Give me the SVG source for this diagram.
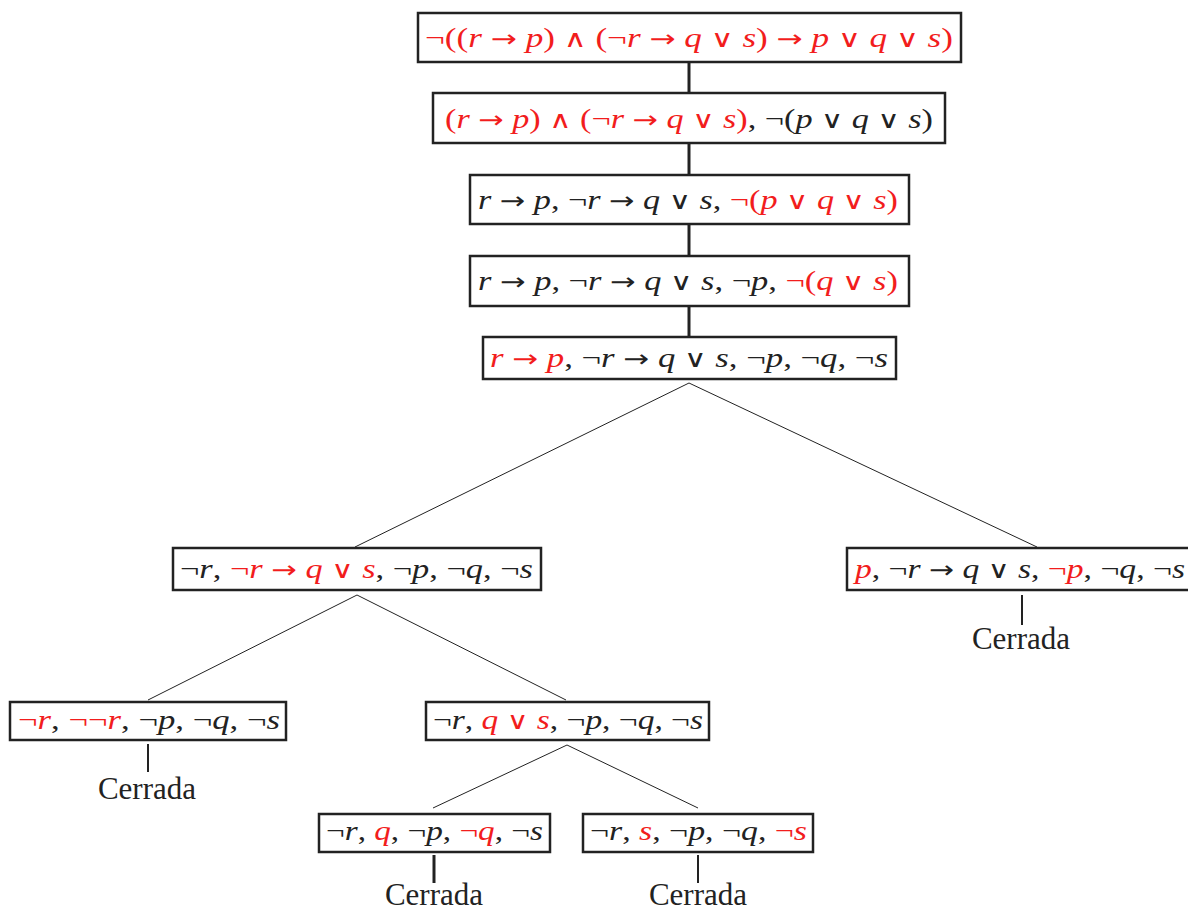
<svg xmlns="http://www.w3.org/2000/svg" width="1188" height="912" viewBox="0 0 1188 912">
<style>
.box{fill:#fff;stroke:#222;stroke-width:2.5}
.m{font-family:"Liberation Serif","DejaVu Serif",serif;font-size:27px;fill:#222}
.i{font-style:italic}
.s{font-family:"DejaVu Sans","Liberation Sans",sans-serif;font-weight:normal;font-size:24px}
.r{fill:#f21d1d}
.c{font-family:"Liberation Serif","DejaVu Serif",serif;font-size:31px;fill:#222;text-anchor:middle}
.thick{stroke:#222;stroke-width:3;fill:none}
.mid{stroke:#222;stroke-width:2;fill:none}
.thin{stroke:#222;stroke-width:1;fill:none}
</style>
<g id="connectors">
<line class="thick" x1="689" y1="62" x2="689" y2="93"/>
<line class="thick" x1="689" y1="143" x2="689" y2="175"/>
<line class="thick" x1="689" y1="224" x2="689" y2="256"/>
<line class="thick" x1="689" y1="306" x2="689" y2="337"/>
<line class="thin" x1="689" y1="383" x2="355" y2="547"/>
<line class="thin" x1="689" y1="383" x2="1037" y2="547"/>
<line class="thin" x1="357" y1="595" x2="148" y2="700"/>
<line class="thin" x1="357" y1="595" x2="566" y2="700"/>
<line class="thin" x1="567" y1="745" x2="433" y2="808"/>
<line class="thin" x1="567" y1="745" x2="698" y2="808"/>
<line class="mid" x1="1022" y1="595" x2="1022" y2="625"/>
<line class="mid" x1="148" y1="744" x2="148" y2="772"/>
<line class="thick" x1="434" y1="855" x2="434" y2="883"/>
<line class="mid" x1="698" y1="855" x2="698" y2="883"/>
</g>
<g id="n1">
<rect class="box" x="418" y="13" width="543" height="49"/>
<text class="m r" x="425" y="47" textLength="528" lengthAdjust="spacingAndGlyphs">¬((<tspan class="i">r</tspan> <tspan class="s">→</tspan> <tspan class="i">p</tspan>) <tspan class="s">∧</tspan> (¬<tspan class="i">r</tspan> <tspan class="s">→</tspan> <tspan class="i">q</tspan> <tspan class="s">∨</tspan> <tspan class="i">s</tspan>) <tspan class="s">→</tspan> <tspan class="i">p</tspan> <tspan class="s">∨</tspan> <tspan class="i">q</tspan> <tspan class="s">∨</tspan> <tspan class="i">s</tspan>)</text>
</g>
<g id="n2">
<rect class="box" x="433" y="93" width="512" height="50"/>
<text class="m" x="445" y="128" textLength="488" lengthAdjust="spacingAndGlyphs"><tspan class="r">(<tspan class="i">r</tspan> <tspan class="s">→</tspan> <tspan class="i">p</tspan>) <tspan class="s">∧</tspan> (¬<tspan class="i">r</tspan> <tspan class="s">→</tspan> <tspan class="i">q</tspan> <tspan class="s">∨</tspan> <tspan class="i">s</tspan>)</tspan>, ¬(<tspan class="i">p</tspan> <tspan class="s">∨</tspan> <tspan class="i">q</tspan> <tspan class="s">∨</tspan> <tspan class="i">s</tspan>)</text>
</g>
<g id="n3">
<rect class="box" x="470" y="175" width="439" height="49"/>
<text class="m" x="478" y="209" textLength="420" lengthAdjust="spacingAndGlyphs"><tspan class="i">r</tspan> <tspan class="s">→</tspan> <tspan class="i">p</tspan>, ¬<tspan class="i">r</tspan> <tspan class="s">→</tspan> <tspan class="i">q</tspan> <tspan class="s">∨</tspan> <tspan class="i">s</tspan>, <tspan class="r">¬(<tspan class="i">p</tspan> <tspan class="s">∨</tspan> <tspan class="i">q</tspan> <tspan class="s">∨</tspan> <tspan class="i">s</tspan>)</tspan></text>
</g>
<g id="n4">
<rect class="box" x="470" y="256" width="439" height="50"/>
<text class="m" x="478" y="290" textLength="420" lengthAdjust="spacingAndGlyphs"><tspan class="i">r</tspan> <tspan class="s">→</tspan> <tspan class="i">p</tspan>, ¬<tspan class="i">r</tspan> <tspan class="s">→</tspan> <tspan class="i">q</tspan> <tspan class="s">∨</tspan> <tspan class="i">s</tspan>, ¬<tspan class="i">p</tspan>, <tspan class="r">¬(<tspan class="i">q</tspan> <tspan class="s">∨</tspan> <tspan class="i">s</tspan>)</tspan></text>
</g>
<g id="n5">
<rect class="box" x="483" y="337" width="413" height="42"/>
<text class="m" x="490" y="367" textLength="398" lengthAdjust="spacingAndGlyphs"><tspan class="r"><tspan class="i">r</tspan> <tspan class="s">→</tspan> <tspan class="i">p</tspan></tspan>, ¬<tspan class="i">r</tspan> <tspan class="s">→</tspan> <tspan class="i">q</tspan> <tspan class="s">∨</tspan> <tspan class="i">s</tspan>, ¬<tspan class="i">p</tspan>, ¬<tspan class="i">q</tspan>, ¬<tspan class="i">s</tspan></text>
</g>
<g id="n6">
<rect class="box" x="173" y="548" width="368" height="42"/>
<text class="m" x="180" y="578" textLength="353" lengthAdjust="spacingAndGlyphs">¬<tspan class="i">r</tspan>, <tspan class="r">¬<tspan class="i">r</tspan> <tspan class="s">→</tspan> <tspan class="i">q</tspan> <tspan class="s">∨</tspan> <tspan class="i">s</tspan></tspan>, ¬<tspan class="i">p</tspan>, ¬<tspan class="i">q</tspan>, ¬<tspan class="i">s</tspan></text>
</g>
<g id="n7">
<rect class="box" x="847" y="548" width="345" height="42"/>
<text class="m" x="855" y="578" textLength="330" lengthAdjust="spacingAndGlyphs"><tspan class="r i">p</tspan>, ¬<tspan class="i">r</tspan> <tspan class="s">→</tspan> <tspan class="i">q</tspan> <tspan class="s">∨</tspan> <tspan class="i">s</tspan>, <tspan class="r">¬<tspan class="i">p</tspan></tspan>, ¬<tspan class="i">q</tspan>, ¬<tspan class="i">s</tspan></text>
<text class="c" x="1021" y="649">Cerrada</text>
</g>
<g id="n8">
<rect class="box" x="10" y="702" width="276" height="38"/>
<text class="m" x="18" y="729" textLength="262" lengthAdjust="spacingAndGlyphs"><tspan class="r">¬<tspan class="i">r</tspan></tspan>, <tspan class="r">¬¬<tspan class="i">r</tspan></tspan>, ¬<tspan class="i">p</tspan>, ¬<tspan class="i">q</tspan>, ¬<tspan class="i">s</tspan></text>
<text class="c" x="147" y="799">Cerrada</text>
</g>
<g id="n9">
<rect class="box" x="426" y="702" width="283" height="38"/>
<text class="m" x="433" y="729" textLength="270" lengthAdjust="spacingAndGlyphs">¬<tspan class="i">r</tspan>, <tspan class="r"><tspan class="i">q</tspan> <tspan class="s">∨</tspan> <tspan class="i">s</tspan></tspan>, ¬<tspan class="i">p</tspan>, ¬<tspan class="i">q</tspan>, ¬<tspan class="i">s</tspan></text>
</g>
<g id="n10">
<rect class="box" x="319" y="814" width="231" height="38"/>
<text class="m" x="326" y="840" textLength="217" lengthAdjust="spacingAndGlyphs">¬<tspan class="i">r</tspan>, <tspan class="r i">q</tspan>, ¬<tspan class="i">p</tspan>, <tspan class="r">¬<tspan class="i">q</tspan></tspan>, ¬<tspan class="i">s</tspan></text>
<text class="c" x="434" y="905">Cerrada</text>
</g>
<g id="n11">
<rect class="box" x="583" y="814" width="230" height="38"/>
<text class="m" x="590" y="840" textLength="217" lengthAdjust="spacingAndGlyphs">¬<tspan class="i">r</tspan>, <tspan class="r i">s</tspan>, ¬<tspan class="i">p</tspan>, ¬<tspan class="i">q</tspan>, <tspan class="r">¬<tspan class="i">s</tspan></tspan></text>
<text class="c" x="698" y="905">Cerrada</text>
</g>
</svg>
